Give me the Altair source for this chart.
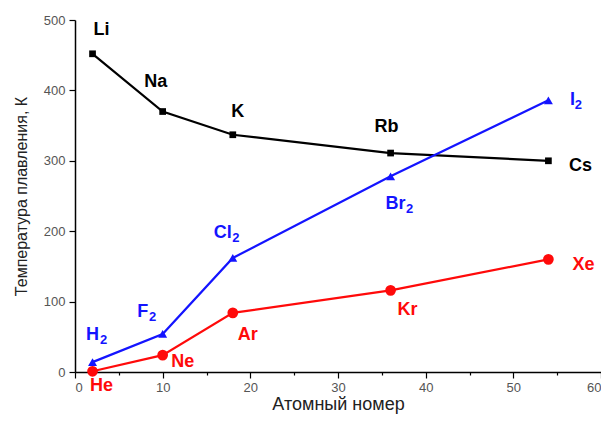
import altair as alt
import pandas as pd

# Data
z_pos = [2, 10, 18, 36, 54]
alkali_names = ["Li", "Na", "K", "Rb", "Cs"]
alkali_t = [452, 370, 337, 311, 300]
halogen_names = ["H", "F", "Cl", "Br", "I"]
halogen_t = [14, 54, 162, 278, 386]
noble_names = ["He", "Ne", "Ar", "Kr", "Xe"]
noble_t = [1, 24, 84, 116, 160]

series_names = ["alkali", "halogen", "noble"]
series_colors = ["#000000", "#1414ff", "#ff0a0a"]

rows = []
for s, names, temps in [("alkali", alkali_names, alkali_t),
                        ("halogen", halogen_names, halogen_t),
                        ("noble", noble_names, noble_t)]:
    for z, n, t in zip(z_pos, names, temps):
        rows.append({"Z": z, "T": t, "series": s, "name": n})
df = pd.DataFrame(rows)

# label offsets in pixels (dx, dy) relative to the point; subscript offsets
label_off = {
    "Li": (9, -24), "Na": (-7, -30), "K": (5, -23), "Rb": (-4, -26), "Cs": (32, 5),
    "H": (0, -27), "F": (-20, -22), "Cl": (-10, -25), "Br": (5, 28), "I": (24, 0),
    "He": (9, 15), "Ne": (20, 7), "Ar": (15, 22), "Kr": (17, 20), "Xe": (35, 6),
}
sub_off = {"H": (11, -22), "F": (-10, -17), "Cl": (3, -20), "Br": (19, 33), "I": (30, 5)}

color_scale = alt.Scale(domain=series_names, range=series_colors)
xs = alt.Scale(domain=[0, 60], nice=False)
ys = alt.Scale(domain=[0, 500], nice=False)

x_axis = alt.Axis(
    values=list(range(0, 61, 5)),
    labelExpr="datum.value % 10 === 0 ? datum.label : ''",
    tickSize={"condition": {"test": "datum.value % 10 === 0", "value": 6}, "value": 3},
    title="Атомный номер", titleFontSize=18, titleFontWeight="normal",
    titleColor="#222222", titleBaseline="alphabetic", titleY=37, labelPadding=3,
)
y_axis = alt.Axis(
    values=list(range(0, 501, 50)),
    labelExpr="datum.value % 100 === 0 ? datum.label : ''",
    tickSize={"condition": {"test": "datum.value % 100 === 0", "value": 6}, "value": 3},
    title="Температура плавления, К", titleFontSize=16, titleFontWeight="normal",
    titleColor="#222222", titlePadding=14, labelPadding=4,
)

base = alt.Chart(df)
lines = base.mark_line(strokeWidth=2.2).encode(
    x=alt.X("Z:Q", scale=xs, axis=x_axis),
    y=alt.Y("T:Q", scale=ys, axis=y_axis),
    color=alt.Color("series:N", scale=color_scale, legend=None),
    detail="series:N",
)
points = base.mark_point(filled=True, opacity=1).encode(
    x="Z:Q", y="T:Q",
    color=alt.Color("series:N", scale=color_scale, legend=None),
    shape=alt.Shape("series:N", scale=alt.Scale(domain=series_names,
                                                range=["square", "triangle-up", "circle"]),
                    legend=None),
    size=alt.Size("series:N", scale=alt.Scale(domain=series_names, range=[45, 115, 50]),
                  legend=None),
)

layers = [lines, points]
for s, c, names in zip(series_names, series_colors, [alkali_names, halogen_names, noble_names]):
    for n in names:
        dx, dy = label_off[n]
        d = df[df["name"] == n]
        layers.append(
            alt.Chart(d).mark_text(dx=dx, dy=dy, font="Liberation Sans", fontSize=18,
                                   fontWeight="bold", color=c)
            .encode(x="Z:Q", y="T:Q", text="name:N")
        )
        if n in sub_off:
            sdx, sdy = sub_off[n]
            layers.append(
                alt.Chart(d).mark_text(dx=sdx, dy=sdy, font="Liberation Sans", fontSize=13,
                                       fontWeight="bold", color=c, text="2")
                .encode(x="Z:Q", y="T:Q")
            )

chart = alt.layer(*layers).properties(
    width=526, height=352,
    autosize=alt.AutoSizeParams(type="none"),
    padding={"left": 67, "top": 12, "right": 0, "bottom": 42},
).configure_view(stroke=None).configure_axis(
    grid=False, domainColor="#000000", domainWidth=1.5, tickColor="#000000",
    tickWidth=1.2, labelColor="#555555", labelFont="Liberation Sans", labelFontSize=13,
    titleFont="Liberation Sans",
)

chart.save("out.html", embed_options={"renderer": "svg", "actions": False})
